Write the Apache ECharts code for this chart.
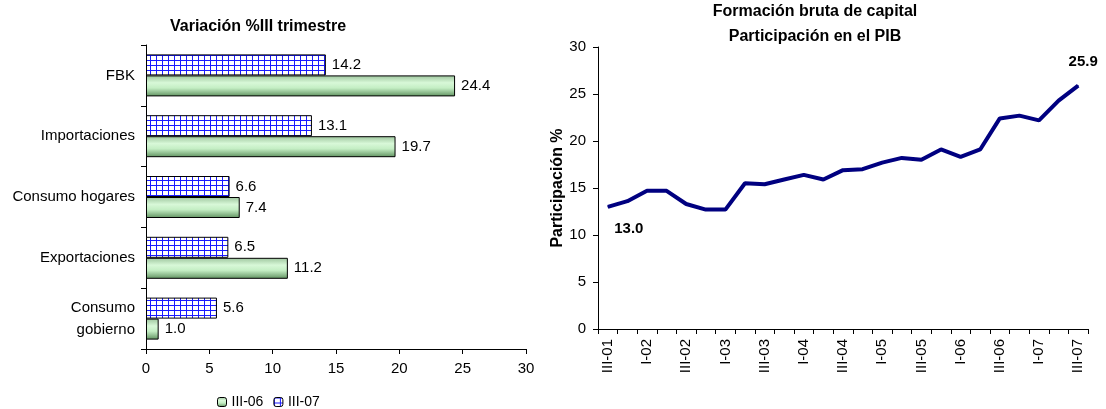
<!DOCTYPE html>
<html><head><meta charset="utf-8">
<script src="https://cdn.jsdelivr.net/npm/echarts@6/dist/echarts.min.js"></script>
<style>html,body{margin:0;padding:0;background:#fff}#c{width:1106px;height:409px}</style>
</head><body><div id="c"></div>
<script>
const barCategories = ['FBK', 'Importaciones', 'Consumo hogares', 'Exportaciones', 'Consumo\ngobierno'];
const barSeriesNames = ['III-06', 'III-07'];
const valuesIII06 = [24.4, 19.7, 7.4, 11.2, 1.0];
const valuesIII07 = [14.2, 13.1, 6.6, 6.5, 5.6];
const barTicks = [0, 5, 10, 15, 20, 25, 30];

const quarters = ['III-01','IV-01','I-02','II-02','III-02','IV-02','I-03','II-03','III-03','IV-03',
  'I-04','II-04','III-04','IV-04','I-05','II-05','III-05','IV-05','I-06','II-06','III-06','IV-06',
  'I-07','II-07','III-07'];
const fbkShare = [13.0, 13.6, 14.7, 14.7, 13.3, 12.7, 12.7, 15.5, 15.4, 15.9, 16.4, 15.9, 16.9, 17.0,
  17.7, 18.2, 18.0, 19.1, 18.3, 19.1, 22.4, 22.7, 22.2, 24.3, 25.9];
const lineTicks = [0, 5, 10, 15, 20, 25, 30];

const FONT = 'Liberation Sans, Arial, sans-serif';

// blue grid pattern
const pc = document.createElement('canvas');
pc.width = 6; pc.height = 5;
const pctx = pc.getContext('2d');
pctx.fillStyle = '#ffffff'; pctx.fillRect(0, 0, 6, 5);
pctx.fillStyle = '#1a1aff';
pctx.fillRect(0, 0, 6, 1);
pctx.fillRect(0, 0, 1, 5);
const bluePattern = { image: pc, repeat: 'repeat' };

const greenGrad = new echarts.graphic.LinearGradient(0, 0, 0, 1, [
  { offset: 0, color: '#9cc49c' },
  { offset: 0.35, color: '#d8f8d8' },
  { offset: 0.6, color: '#c4eec4' },
  { offset: 1, color: '#5f915f' }
]);

const lineData = fbkShare.map((v, i) => {
  if (i === 0) return { value: v, label: { show: true, position: 'bottom', offset: [21, 9] } };
  if (i === fbkShare.length - 1) return { value: v, label: { show: true, position: 'top', offset: [5, -11] } };
  return v;
});

const chart = echarts.init(document.getElementById('c'), null, { renderer: 'canvas' });
chart.setOption({
  animation: false,
  textStyle: { fontFamily: FONT, color: '#000' },
  title: [
    { text: 'Variación %III trimestre', left: 253, textAlign: 'center', top: 14,
      textStyle: { fontFamily: FONT, fontSize: 16, fontWeight: 'bold', color: '#000' } },
    { text: 'Formación bruta de capital\nParticipación en el PIB', left: 810, textAlign: 'center', top: -6,
      textStyle: { fontFamily: FONT, fontSize: 16, fontWeight: 'bold', color: '#000', lineHeight: 25 } }
  ],
  legend: {
    data: barSeriesNames, left: 212, top: 390, itemWidth: 9, itemHeight: 9, itemGap: 10,
    textStyle: { fontFamily: FONT, fontSize: 14, color: '#000' },
    itemStyle: { borderColor: '#000', borderWidth: 1 }
  },
  grid: [
    { left: 146, right: 580, top: 45, bottom: 60 },
    { left: 598, right: 18, top: 47, bottom: 80 }
  ],
  xAxis: [
    { gridIndex: 0, type: 'value', min: barTicks[0], max: barTicks[barTicks.length - 1], interval: 5,
      axisLine: { show: true, lineStyle: { color: '#000' } },
      axisTick: { show: true, length: 5, lineStyle: { color: '#000' } },
      splitLine: { show: false },
      axisLabel: { fontFamily: FONT, fontSize: 15, color: '#000', margin: 12 } },
    { gridIndex: 1, type: 'category', data: quarters, boundaryGap: true,
      axisLine: { lineStyle: { color: '#000' } },
      axisTick: { show: true, interval: 0, length: 5, lineStyle: { color: '#000' } },
      axisLabel: { interval: 1, rotate: 90, fontFamily: FONT, fontSize: 15, color: '#000', margin: 10 } }
  ],
  yAxis: [
    { gridIndex: 0, type: 'category', data: barCategories, inverse: true,
      axisLine: { lineStyle: { color: '#000' } },
      axisTick: { show: true, length: 5, lineStyle: { color: '#000' } },
      axisLabel: { fontFamily: FONT, fontSize: 15, color: '#000', margin: 11, align: 'right',
        lineHeight: 22 } },
    { gridIndex: 1, type: 'value', min: lineTicks[0], max: lineTicks[lineTicks.length - 1], interval: 5,
      name: 'Participación %', nameLocation: 'middle', nameGap: 32, nameRotate: 90,
      nameTextStyle: { fontFamily: FONT, fontSize: 16, fontWeight: 'bold', color: '#000' },
      axisLine: { show: true, lineStyle: { color: '#000' } },
      axisTick: { show: true, length: 5, lineStyle: { color: '#000' } },
      splitLine: { show: false },
      axisLabel: { fontFamily: FONT, fontSize: 15, color: '#000', margin: 12 } }
  ],
  series: [
    { name: 'III-07', type: 'bar', xAxisIndex: 0, yAxisIndex: 0, data: valuesIII07,
      barWidth: 21, barGap: '0%',
      itemStyle: { color: bluePattern, borderColor: '#000', borderWidth: 1 },
      label: { show: true, position: 'right', distance: 6, fontFamily: FONT, fontSize: 15, color: '#000',
        formatter: p => p.value.toFixed(1) } },
    { name: 'III-06', type: 'bar', xAxisIndex: 0, yAxisIndex: 0, data: valuesIII06,
      barWidth: 21, barGap: '0%',
      itemStyle: { color: greenGrad, borderColor: '#000', borderWidth: 1 },
      label: { show: true, position: 'right', distance: 6, fontFamily: FONT, fontSize: 15, color: '#000',
        formatter: p => p.value.toFixed(1) } },
    { name: 'FBK/PIB', type: 'line', xAxisIndex: 1, yAxisIndex: 1, data: lineData,
      symbol: 'circle', symbolSize: 1, showSymbol: true,
      lineStyle: { color: '#000080', width: 4 }, itemStyle: { color: '#000080' },
      label: { show: false, fontFamily: FONT, fontSize: 15, fontWeight: 'bold', color: '#000',
        formatter: p => Number(p.value).toFixed(1) } }
  ]
});
</script></body></html>
